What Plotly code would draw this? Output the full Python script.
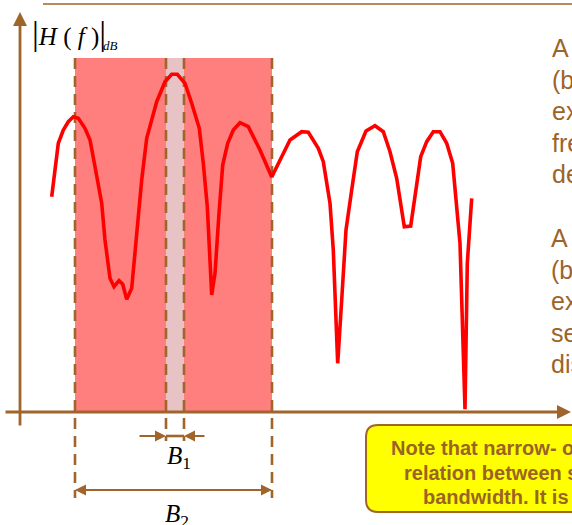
import plotly.graph_objects as go

# ---- data (frequency units, magnitude in dB-like units above the f-axis) ----
freq = [31.7, 38.3, 43.3, 48.3, 53.3, 58.3, 65, 70, 75, 81.7, 85, 90, 94, 99, 102.7,
        106.7, 111.7, 116.7, 121.7, 126.7, 136.7, 145, 151.7, 157.3, 165, 171.7, 179.3,
        183.3, 187.3, 191.7, 195, 199, 202.7, 207.7, 213.3, 220, 228.3, 240, 251.7, 270,
        281.7, 288.3, 298.3, 303.3, 310, 313.3, 317.7, 321.7, 326, 331.7, 337.3, 346, 355,
        363.3, 370, 376.7, 384.3, 390.7, 395, 400.7, 406.7, 413.3, 420, 426.7, 432.7,
        436.7, 440, 445, 447.3, 451.7]
mag_db = [215.3, 268.7, 282, 290.3, 295.3, 293.7, 283.7, 272, 245.3, 208.7, 172, 133.7,
          125.3, 131.3, 127.7, 112.7, 123.7, 178.7, 232, 273.7, 310.3, 330.3, 337.7, 337.7,
          328.7, 308.7, 283.7, 248.7, 205.3, 117, 138.7, 198.7, 247, 268.7, 282, 289.3,
          285.3, 262, 235, 272, 280.3, 279.7, 263.7, 250.3, 208.7, 162, 48.7, 112, 182,
          222, 260.3, 281, 286.3, 280.3, 260.3, 233.7, 185.3, 186, 215.3, 255.3, 270.3,
          280.3, 280.3, 268.7, 248.7, 208.7, 168.7, 2.7, 148.7, 213.7]

band_B2 = [55, 252]      # wide bandwidth edges
band_B1 = [146, 164]     # narrow bandwidth edges
band_top = 354

BROWN = "#A0652A"
TXT = "#9C6428"

fig = go.Figure()
fig.add_trace(go.Scatter(x=freq, y=mag_db, mode="lines",
                         line=dict(color="#FF0000", width=3.6),
                         hoverinfo="skip", showlegend=False))

shapes = []
shapes.append(dict(type="rect", xref="x", yref="y", x0=band_B2[0], x1=band_B2[1],
                   y0=0, y1=band_top, fillcolor="#FF7F7F", line=dict(width=0), layer="below"))
shapes.append(dict(type="rect", xref="x", yref="y", x0=band_B1[0], x1=band_B1[1],
                   y0=0, y1=band_top, fillcolor="#E8C3C6", line=dict(width=0), layer="below"))
for xv in band_B2:
    shapes.append(dict(type="line", xref="x", yref="y", x0=xv, x1=xv, y0=band_top, y1=-86,
                       line=dict(color=BROWN, width=2.6, dash="11px,7px"), layer="below"))
for xv in band_B1:
    shapes.append(dict(type="line", xref="x", yref="y", x0=xv, x1=xv, y0=band_top, y1=-29,
                       line=dict(color=BROWN, width=2.6, dash="11px,7px"), layer="below"))
shapes.append(dict(type="line", xref="x", yref="y", x0=23, x1=560, y0=408, y1=408,
                   line=dict(color=BROWN, width=1.5), layer="below"))
shapes.append(dict(type="line", xref="x", yref="y", x0=band_B1[0], x1=band_B1[1], y0=-24, y1=-24,
                   line=dict(color=BROWN, width=2.6)))
shapes.append(dict(type="path", xref="x", yref="y",
                   path="M 358,-13 L 660,-13 L 660,-100 L 358,-100 Q 346,-100 346,-88 L 346,-25 Q 346,-13 358,-13 Z",
                   fillcolor="#FFFF00", line=dict(color=BROWN, width=2)))

ann = []
def arrow(xh, yh, xt, yt, w=2.6, size=1.0, head=2):
    ann.append(dict(x=xh, y=yh, ax=xt, ay=yt, xref="x", yref="y", axref="x", ayref="y",
                    showarrow=True, arrowhead=head, arrowsize=size, arrowwidth=w,
                    arrowcolor=BROWN, text=""))

arrow(0, 400, 0, -15, w=2.8, size=1.0)
arrow(551, 0, -16, 0, w=2.8, size=1.0)
arrow(band_B1[0], -24, 118, -24, w=2.2, size=1.0)
arrow(band_B1[1], -24, 186, -24, w=2.2, size=1.0)
arrow(band_B2[1], -78, band_B2[0], -78, w=2.2, size=1.0)
arrow(band_B2[0], -78, band_B2[1], -78, w=2.2, size=1.0)

BAR = "<span style='font-size:34px'>|</span>"
ann.append(dict(x=10, y=379, xref="x", yref="y", xanchor="left", yanchor="middle", showarrow=False,
                text=BAR + "<i>H</i> ( <i>f</i> )" + BAR,
                font=dict(family="Liberation Serif", size=25, color="black")))
ann.append(dict(x=81, y=367, xref="x", yref="y", xanchor="left", yanchor="middle", showarrow=False,
                text="<i>dB</i>", font=dict(family="Liberation Serif", size=13, color="black")))
ann.append(dict(x=159, y=-45, xref="x", yref="y", xanchor="center", yanchor="middle", showarrow=False,
                text="<i>B</i><sub>1</sub>", font=dict(family="Liberation Serif", size=25, color="black")))
ann.append(dict(x=157, y=-103, xref="x", yref="y", xanchor="center", yanchor="middle", showarrow=False,
                text="<i>B</i><sub>2</sub>", font=dict(family="Liberation Serif", size=25, color="black")))

block1 = ["A narrowband signal", "(bandwidth B1)", "experiences a flat", "frequency response", "degradation"]
block2 = ["A wideband signal", "(bandwidth B2)", "experiences", "severe frequency-selective", "distortion"]
for i, s in enumerate(block1):
    ann.append(dict(x=530, y=412 - (64 + 31.5 * i), xref="x", yref="y", xanchor="left", yanchor="bottom",
                    showarrow=False, text=s, font=dict(family="Liberation Sans", size=25, color=TXT)))
for i, s in enumerate(block2):
    ann.append(dict(x=529, y=412 - (254 + 31.5 * i), xref="x", yref="y", xanchor="left", yanchor="bottom",
                    showarrow=False, text=s, font=dict(family="Liberation Sans", size=25, color=TXT)))

note = [("Note that narrow- or wideband is not absolute, but a", 369),
        ("relation between signal and channel", 382),
        ("bandwidth. It is not a property of the signal alone", 401)]
for i, (s, xv) in enumerate(note):
    ann.append(dict(x=xv, y=412 - (461 + 24.5 * i), xref="x", yref="y", xanchor="left", yanchor="bottom",
                    showarrow=False, text="<b>" + s + "</b>",
                    font=dict(family="Liberation Sans", size=20, color="#9A6424")))

fig.update_layout(width=572, height=525, margin=dict(l=0, r=0, t=0, b=0),
                  paper_bgcolor="white", plot_bgcolor="white",
                  xaxis=dict(range=[-20, 552], visible=False, fixedrange=True),
                  yaxis=dict(range=[-113, 412], visible=False, fixedrange=True),
                  shapes=shapes, annotations=ann, showlegend=False)
fig.write_html("out.html", config={"displayModeBar": False},
               post_script="document.body.style.margin='0px';document.body.style.overflow='hidden';")
